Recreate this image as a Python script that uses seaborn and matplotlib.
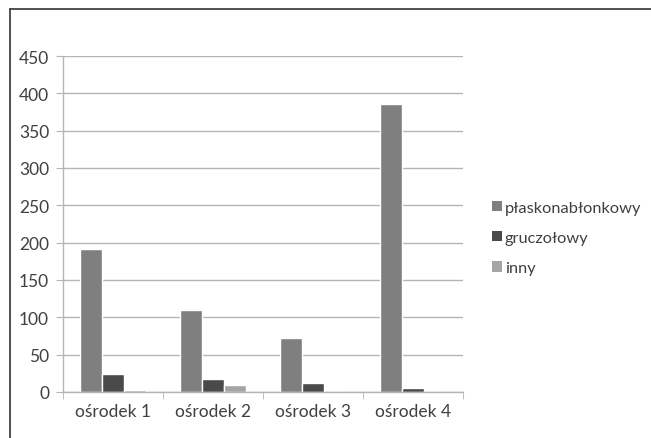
import matplotlib
matplotlib.use("Agg")
import matplotlib.pyplot as plt
import seaborn as sns
import pandas as pd
from matplotlib.lines import Line2D
from matplotlib.patches import Patch

categories = ["ośrodek 1", "ośrodek 2", "ośrodek 3", "ośrodek 4"]
series_names = ["płaskonabłonkowy", "gruczołowy", "inny"]
plasko = [192, 110, 72, 386]
grucz = [24, 17, 12, 6]
inny = [3, 10, 0, 0]
colors = ["#7f7f7f", "#4a4a4a", "#a5a5a5"]

rows = []
for name, vals in zip(series_names, [plasko, grucz, inny]):
    for cat, v in zip(categories, vals):
        rows.append({"cat": cat, "typ": name, "val": v})
df = pd.DataFrame(rows)

sns.set_style("white")
plt.rcParams["font.family"] = ["Lato", "DejaVu Sans"]

fig = plt.figure(figsize=(6.51, 4.39), dpi=100)
ax = fig.add_axes([63 / 651, 1 - 393 / 439, 400 / 651, 336 / 439])

sns.barplot(data=df, x="cat", y="val", hue="typ", palette=colors,
            width=0.66, saturation=1, ax=ax, legend=False)

ax.set_ylim(0, 450)
ax.set_xlim(-0.5, 3.5)
ax.set_yticks(range(0, 451, 50))
ax.yaxis.grid(True, color="#b5b5b5", linewidth=1)
ax.set_axisbelow(True)
ax.set_xlabel("")
ax.set_ylabel("")
for s in ["top", "right"]:
    ax.spines[s].set_visible(False)
for s in ["left", "bottom"]:
    ax.spines[s].set_color("#b5b5b5")
    ax.spines[s].set_linewidth(1)

ax.tick_params(axis="y", left=True, length=5, color="#b5b5b5", labelsize=12.5,
               labelcolor="#404040", pad=5)
ax.tick_params(axis="x", which="major", length=0, labelsize=12.5,
               labelcolor="#404040", pad=8)
ax.set_xticks([-0.5, 0.5, 1.5, 2.5, 3.5], minor=True)
ax.tick_params(axis="x", which="minor", bottom=True, length=5, color="#b5b5b5")

handles = [Patch(facecolor=c, edgecolor="none") for c in colors]
fig.legend(handles, series_names, loc="center left",
           bbox_to_anchor=(477 / 651, 1 - 239 / 439), frameon=False,
           fontsize=11.8, labelcolor="#404040", handlelength=0.6,
           handleheight=0.6, handletextpad=0.2, labelspacing=1.0)

# outer chart frame (cropped at right and bottom)
fig.add_artist(Line2D([10 / 651, 1], [1 - 10 / 439, 1 - 10 / 439],
                      color="#333333", linewidth=1.2))
fig.add_artist(Line2D([10 / 651, 10 / 651], [0, 1 - 10 / 439],
                      color="#333333", linewidth=1.2))

fig.savefig("out.png", dpi=100)
